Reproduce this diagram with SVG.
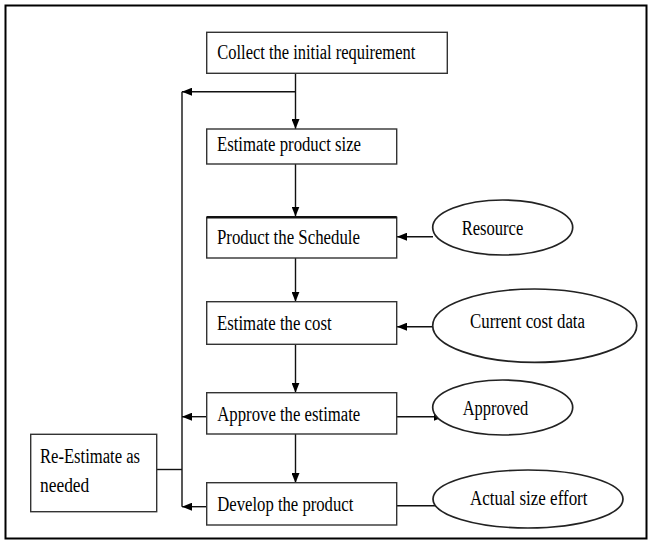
<svg xmlns="http://www.w3.org/2000/svg" width="652" height="542" viewBox="0 0 652 542">
<style>
  .box { fill: #ffffff; stroke: #333333; stroke-width: 1.4; }
  .ell { fill: #ffffff; stroke: #222222; stroke-width: 1.7; }
  .lbl { font-family: "Liberation Serif", "Times New Roman", "DejaVu Serif", serif; font-size: 20px; fill: #000000; }
  .conn { fill: none; stroke: #111111; stroke-width: 1.4; }
</style>
<defs>
  <marker id="arr" viewBox="0 0 10 8" refX="10" refY="4" markerWidth="10" markerHeight="8" markerUnits="userSpaceOnUse" orient="auto">
    <path d="M0,0 L10,4 L0,8 Z" fill="#000000"/>
  </marker>
</defs>
<rect x="0" y="0" width="652" height="542" fill="#ffffff"/>
<rect x="5.5" y="5.5" width="641" height="533" fill="none" stroke="#000000" stroke-width="2"/>

<g id="connectors">
  <path class="conn" d="M295.5,73.3 V129" marker-end="url(#arr)"/>
  <path class="conn" d="M295.5,91.7 H182" marker-end="url(#arr)"/>
  <path class="conn" d="M182,91.7 V506.7"/>
  <path class="conn" d="M295.5,164 V216.5" marker-end="url(#arr)"/>
  <path class="conn" d="M295.5,258 V301.7" marker-end="url(#arr)"/>
  <path class="conn" d="M295.5,344.3 V392.7" marker-end="url(#arr)"/>
  <path class="conn" d="M295.5,434 V483" marker-end="url(#arr)"/>
  <path class="conn" d="M433,236.7 H397" marker-end="url(#arr)"/>
  <path class="conn" d="M433,326.7 H397" marker-end="url(#arr)"/>
  <path class="conn" d="M396.7,416.7 H444" marker-end="url(#arr)"/>
  <path class="conn" d="M396.7,505.7 H448" marker-end="url(#arr)"/>
  <path class="conn" d="M206.7,416.7 H182" marker-end="url(#arr)"/>
  <path class="conn" d="M206.7,506.7 H182" marker-end="url(#arr)"/>
  <path class="conn" d="M156.7,469.5 H182"/>
</g>

<g id="collect">
  <rect class="box" x="206.7" y="32.3" width="240.6" height="41"/>
  <text class="lbl" x="217.3" y="59" textLength="198" lengthAdjust="spacingAndGlyphs">Collect the initial requirement</text>
</g>
<g id="estimate-size">
  <rect class="box" x="206.7" y="129" width="190" height="35"/>
  <text class="lbl" x="217" y="151" textLength="144" lengthAdjust="spacingAndGlyphs">Estimate product size</text>
</g>
<g id="schedule">
  <rect class="box" x="206.7" y="217.3" width="190" height="40.7"/>
  <line x1="206.7" y1="217.3" x2="396.7" y2="217.3" stroke="#111111" stroke-width="2.5"/>
  <text class="lbl" x="217" y="244" textLength="143" lengthAdjust="spacingAndGlyphs">Product the Schedule</text>
</g>
<g id="estimate-cost">
  <rect class="box" x="206.7" y="301.7" width="190" height="42.6"/>
  <text class="lbl" x="217" y="330" textLength="114.6" lengthAdjust="spacingAndGlyphs">Estimate the cost</text>
</g>
<g id="approve">
  <rect class="box" x="206.7" y="392.7" width="190" height="41.3"/>
  <text class="lbl" x="217.3" y="420.5" textLength="143" lengthAdjust="spacingAndGlyphs">Approve the estimate</text>
</g>
<g id="develop">
  <rect class="box" x="206.7" y="482.7" width="190" height="42.3"/>
  <text class="lbl" x="217.3" y="511" textLength="136" lengthAdjust="spacingAndGlyphs">Develop the product</text>
</g>
<g id="reestimate">
  <rect class="box" x="30.7" y="434.3" width="126" height="77.4"/>
  <text class="lbl" x="40" y="463.3" textLength="100" lengthAdjust="spacingAndGlyphs">Re-Estimate as</text>
  <text class="lbl" x="40" y="491.7" textLength="49.3" lengthAdjust="spacingAndGlyphs">needed</text>
</g>
<g id="resource">
  <ellipse class="ell" cx="502.7" cy="227.5" rx="70" ry="27.5"/>
  <text class="lbl" x="461.7" y="235" textLength="61.6" lengthAdjust="spacingAndGlyphs">Resource</text>
</g>
<g id="current-cost">
  <ellipse class="ell" cx="534.7" cy="325.7" rx="102" ry="36.7"/>
  <text class="lbl" x="470" y="328.3" textLength="115" lengthAdjust="spacingAndGlyphs">Current cost data</text>
</g>
<g id="approved">
  <ellipse class="ell" cx="502.7" cy="407.5" rx="70" ry="27.5"/>
  <text class="lbl" x="462.7" y="415" textLength="65.6" lengthAdjust="spacingAndGlyphs">Approved</text>
</g>
<g id="actual">
  <ellipse class="ell" cx="528" cy="499" rx="95" ry="29"/>
  <text class="lbl" x="470" y="505" textLength="117.5" lengthAdjust="spacingAndGlyphs">Actual size effort</text>
</g>
</svg>
